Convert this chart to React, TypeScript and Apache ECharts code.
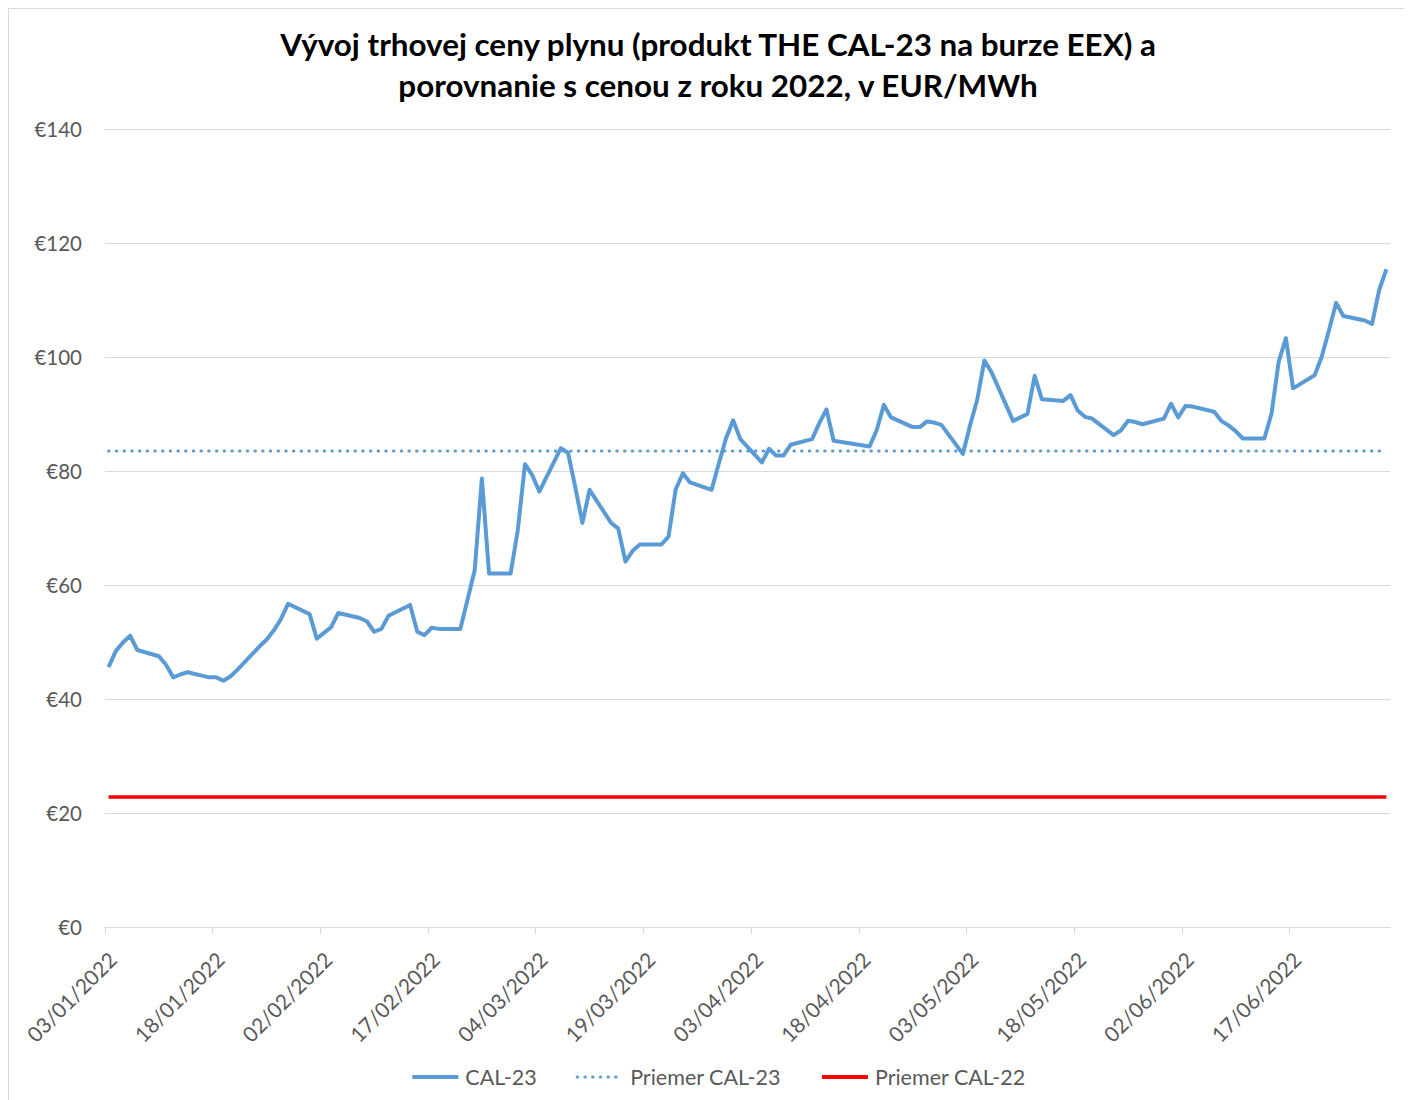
import React, { useEffect, useRef } from "react";
import * as echarts from "echarts";

const TITLE_LINES = [
  "Vývoj trhovej ceny plynu (produkt THE CAL-23 na burze EEX) a",
  "porovnanie s cenou z roku 2022, v EUR/MWh",
];

const SERIES_NAMES = ["CAL-23", "Priemer CAL-23", "Priemer CAL-22"];

const cal23Dates = [
  "2022-01-03", "2022-01-04", "2022-01-05", "2022-01-06", "2022-01-07",
  "2022-01-10", "2022-01-11", "2022-01-12", "2022-01-13", "2022-01-14",
  "2022-01-17", "2022-01-18", "2022-01-19", "2022-01-20", "2022-01-21",
  "2022-01-24", "2022-01-25", "2022-01-26", "2022-01-27", "2022-01-28",
  "2022-01-31", "2022-02-01", "2022-02-02", "2022-02-03", "2022-02-04",
  "2022-02-07", "2022-02-08", "2022-02-09", "2022-02-10", "2022-02-11",
  "2022-02-14", "2022-02-15", "2022-02-16", "2022-02-17", "2022-02-18",
  "2022-02-21", "2022-02-22", "2022-02-23", "2022-02-24", "2022-02-25",
  "2022-02-28", "2022-03-01", "2022-03-02", "2022-03-03", "2022-03-04",
  "2022-03-07", "2022-03-08", "2022-03-09", "2022-03-10", "2022-03-11",
  "2022-03-14", "2022-03-15", "2022-03-16", "2022-03-17", "2022-03-18",
  "2022-03-21", "2022-03-22", "2022-03-23", "2022-03-24", "2022-03-25",
  "2022-03-28", "2022-03-29", "2022-03-30", "2022-03-31", "2022-04-01",
  "2022-04-04", "2022-04-05", "2022-04-06", "2022-04-07", "2022-04-08",
  "2022-04-11", "2022-04-12", "2022-04-13", "2022-04-14",
  "2022-04-19", "2022-04-20", "2022-04-21", "2022-04-22",
  "2022-04-25", "2022-04-26", "2022-04-27", "2022-04-28", "2022-04-29",
  "2022-05-02", "2022-05-03", "2022-05-04", "2022-05-05", "2022-05-06",
  "2022-05-09", "2022-05-10", "2022-05-11", "2022-05-12", "2022-05-13",
  "2022-05-16", "2022-05-17", "2022-05-18", "2022-05-19", "2022-05-20",
  "2022-05-23", "2022-05-24", "2022-05-25", "2022-05-26", "2022-05-27",
  "2022-05-30", "2022-05-31", "2022-06-01", "2022-06-02", "2022-06-03",
  "2022-06-06", "2022-06-07", "2022-06-08", "2022-06-09", "2022-06-10",
  "2022-06-13", "2022-06-14", "2022-06-15", "2022-06-16", "2022-06-17",
  "2022-06-20", "2022-06-21", "2022-06-22", "2022-06-23", "2022-06-24",
  "2022-06-27", "2022-06-28", "2022-06-29", "2022-06-30",
];

const cal23Values = [
  45.6, 48.4, 49.9, 51.1, 48.6,
  47.5, 46.0, 43.8, 44.3, 44.7,
  43.8, 43.8, 43.2, 44.0, 45.2,
  49.2, 50.4, 52.0, 54.0, 56.7,
  54.9, 50.6, 51.6, 52.6, 55.1,
  54.2, 53.6, 51.8, 52.3, 54.6,
  56.5, 51.8, 51.2, 52.5, 52.3,
  52.3, 57.4, 62.6, 78.7, 62.0,
  62.0, 69.6, 81.2, 79.3, 76.4,
  84.0, 83.2, 77.2, 70.9, 76.7,
  70.9, 69.9, 64.1, 66.0, 67.1,
  67.1, 68.5, 76.8, 79.6, 78.0,
  76.7, 81.3, 85.7, 88.9, 85.6,
  81.5, 83.9, 82.7, 82.7, 84.6,
  85.6, 88.4, 90.8, 85.3,
  84.3, 87.2, 91.6, 89.4,
  87.7, 87.7, 88.7, 88.5, 88.1,
  83.0, 88.0, 92.5, 99.4, 97.3,
  88.8, 89.4, 90.0, 96.7, 92.6,
  92.3, 93.3, 90.6, 89.5, 89.2,
  86.3, 87.1, 88.8, 88.6, 88.2,
  89.2, 91.8, 89.4, 91.4, 91.3,
  90.4, 88.8, 88.0, 87.0, 85.7,
  85.7, 90.1, 99.2, 103.3, 94.5,
  96.8, 100.1, 104.7, 109.5, 107.2,
  106.4, 105.8, 111.8, 115.4,
];

const avgDates = ["2022-01-03", "2022-06-30"];
const avgCal23Values = [83.5, 83.5];
const avgCal22Values = [22.8, 22.8];

const AXIS_START = "2022-01-03";
const AXIS_DAYS = 179;
const TICK_STEP_DAYS = 15;
const Y_MIN = 0;
const Y_MAX = 140;
const Y_STEP = 20;

const DAY_MS = 86400000;
const toUTC = (s: string) => {
  const [y, m, d] = s.split("-").map(Number);
  return Date.UTC(y, m - 1, d);
};
const startMs = toUTC(AXIS_START);
// Excel date axis places each point in the middle of its day
const dayPos = (s: string) => (toUTC(s) - startMs) / DAY_MS + 0.5;
const dayLabel = (v: number) => {
  const dt = new Date(startMs + Math.round(v) * DAY_MS);
  const dd = String(dt.getUTCDate()).padStart(2, "0");
  const mm = String(dt.getUTCMonth() + 1).padStart(2, "0");
  return `${dd}/${mm}/${dt.getUTCFullYear()}`;
};

const FONT = "Lato, 'Open Sans', sans-serif";
const GREY = "#595959";
const BLUE = "#5b9bd5";
const RED = "#ff0000";

const mainLine = { color: BLUE, width: 4, join: "round" };
const dotLine = { color: BLUE, width: 3, type: [0.5, 7.2], cap: "round" };
const redLine = { color: RED, width: 3.5 };

export default function App() {
  const ref = useRef<HTMLDivElement>(null);
  useEffect(() => {
    if (!ref.current) return;
    const chart = echarts.init(ref.current, null, { renderer: "svg" });
    const tickValues: number[] = [];
    for (let v = 0; v <= AXIS_DAYS; v += TICK_STEP_DAYS) tickValues.push(v);

    const pairs = (dates: string[], vals: number[]) =>
      dates.map((d, i) => [dayPos(d), vals[i]]);

    chart.setOption({
      animation: false,
      textStyle: { fontFamily: FONT },
      graphic: [
        {
          type: "text",
          left: "center",
          top: 14,
          style: {
            text: TITLE_LINES.join("\n"),
            textAlign: "center",
            fontFamily: FONT,
            fontSize: 31.4,
            fontWeight: "bold",
            fill: "#000000",
            lineHeight: 41,
          },
        },
      ],
      grid: { left: 96, right: 37, top: 120, bottom: 181, containLabel: false },
      legend: {
        top: 1052,
        left: "center",
        itemWidth: 46,
        itemHeight: 14,
        itemGap: 39,
        itemStyle: { opacity: 0 },
        textStyle: { fontFamily: FONT, fontSize: 21.5, color: GREY, padding: [0, 0, 0, 2] },
        data: [
          { name: SERIES_NAMES[0], lineStyle: { ...mainLine } },
          { name: SERIES_NAMES[1], lineStyle: { ...dotLine } },
          { name: SERIES_NAMES[2], lineStyle: { ...redLine, width: 4 } },
        ],
      },
      xAxis: {
        type: "value",
        min: 0,
        max: AXIS_DAYS,
        interval: TICK_STEP_DAYS,
        axisLine: { show: true, lineStyle: { color: "#d9d9d9", width: 1 } },
        axisTick: {
          show: true,
          length: 7,
          lineStyle: { color: "#d9d9d9" },
          customValues: tickValues,
        },
        splitLine: { show: false },
        axisLabel: {
          rotate: 45,
          margin: 21,
          verticalAlign: "top",
          fontFamily: FONT,
          fontSize: 21,
          color: GREY,
          customValues: tickValues,
          formatter: (v: number) => dayLabel(v),
        },
      },
      yAxis: {
        type: "value",
        min: Y_MIN,
        max: Y_MAX,
        interval: Y_STEP,
        axisLine: { show: false },
        axisTick: { show: false },
        splitLine: { lineStyle: { color: "#d9d9d9", width: 1 } },
        axisLabel: {
          margin: 23,
          fontFamily: FONT,
          fontSize: 20.5,
          color: GREY,
          formatter: (v: number) => "€" + v,
        },
      },
      series: [
        {
          name: SERIES_NAMES[0],
          type: "line",
          data: pairs(cal23Dates, cal23Values),
          showSymbol: false,
          symbol: "none",
          lineStyle: mainLine,
          itemStyle: { color: BLUE },
          z: 3,
        },
        {
          name: SERIES_NAMES[1],
          type: "line",
          data: pairs(avgDates, avgCal23Values),
          showSymbol: false,
          symbol: "none",
          lineStyle: dotLine,
          itemStyle: { color: BLUE },
          z: 2,
        },
        {
          name: SERIES_NAMES[2],
          type: "line",
          data: pairs(avgDates, avgCal22Values),
          showSymbol: false,
          symbol: "none",
          lineStyle: redLine,
          itemStyle: { color: RED },
          z: 2,
        },
      ],
    });
    return () => chart.dispose();
  }, []);

  return (
    <div
      style={{
        width: 1419,
        height: 1100,
        borderLeft: "1px solid #d9d9d9",
        borderTop: "1px solid #d9d9d9",
        boxSizing: "border-box",
        background: "#ffffff",
      }}
    >
      <div ref={ref} style={{ width: 1418, height: 1099 }} />
    </div>
  );
}
